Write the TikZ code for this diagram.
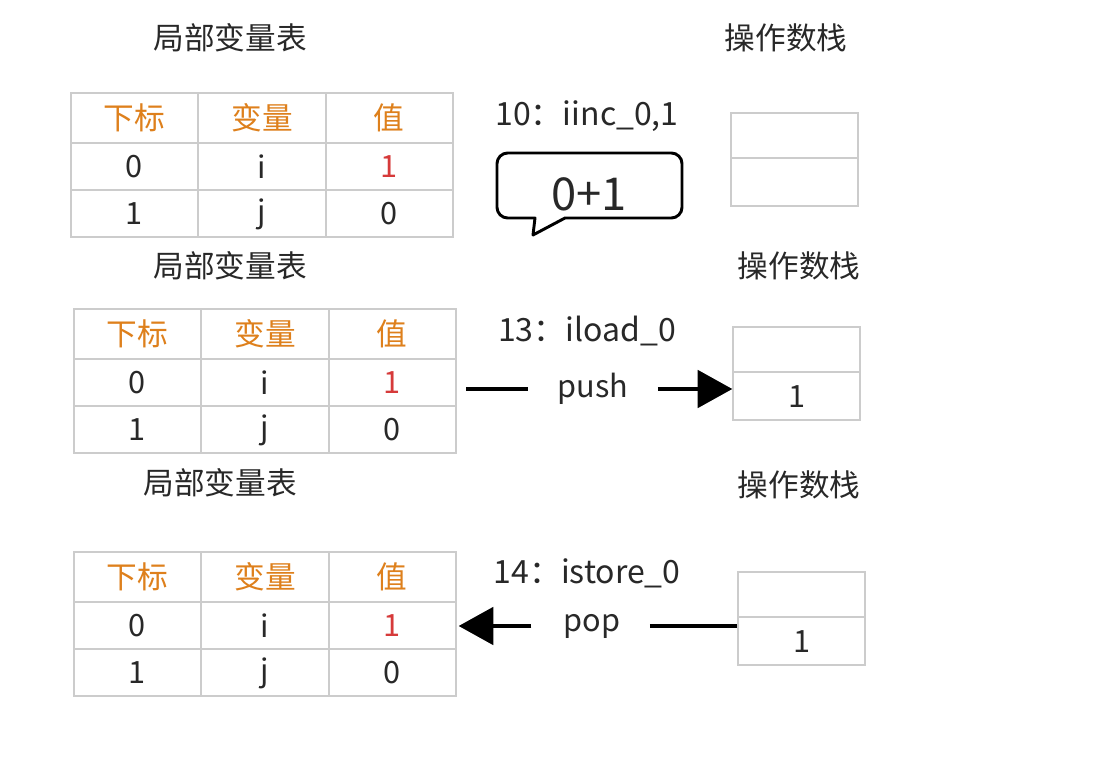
\documentclass[tikz,border=0pt]{standalone}
\usepackage{fontspec}
\setmainfont{Noto Sans CJK SC}
\usetikzlibrary{arrows.meta,positioning}
\definecolor{gridgray}{RGB}{204,204,204}
\definecolor{headorange}{RGB}{222,128,28}
\definecolor{valred}{RGB}{214,58,58}
\definecolor{inkgray}{RGB}{40,40,40}

\tikzset{
  gridline/.style={draw=gridgray,line width=1pt},
  tablebox/.style={gridline,rectangle,minimum width=286.5pt,minimum height=108pt,inner sep=0pt},
  stackbox/.style={gridline,rectangle,minimum width=95.25pt,minimum height=69.75pt,inner sep=0pt},
  head/.style={text=headorange,font=\fontsize{23}{27}\selectfont},
  cell/.style={text=inkgray,font=\fontsize{23}{27}\selectfont},
  title/.style={text=inkgray,font=\fontsize{23}{27}\selectfont},
  instr/.style={text=inkgray,font=\fontsize{24}{28}\selectfont},
  thickline/.style={line width=3pt},
  bigarrow/.style={line width=3pt,-{Triangle[length=26pt,width=28pt]}},
}

% local variable table, top left corner at (#2,#3)
\newcommand{\vartable}[3]{%
\begin{scope}[shift={(#2,#3)}]
\node[tablebox] (#1) at (191,72) {};
\draw[gridline] (127,0) -- (127,144);
\draw[gridline] (255,0) -- (255,144);
\draw[gridline] (0,50) -- (382,50);
\draw[gridline] (0,97) -- (382,97);
\node[head] (#1-idx) at (63,25) {下标};
\node[head] (#1-var) at (191,25) {变量};
\node[head] (#1-val) at (318,25) {值};
\node[cell] (#1-a) at (63,74) {0};
\node[cell] (#1-b) at (191,74) {i};
\node[cell,text=valred] (#1-c) at (318,74) {1};
\node[cell] (#1-d) at (63,121) {1};
\node[cell] (#1-e) at (191,121) {j};
\node[cell] (#1-f) at (318,121) {0};
\end{scope}}

% operand stack, top left corner at (#2,#3)
\newcommand{\opstack}[4]{%
\begin{scope}[shift={(#2,#3)}]
\node[stackbox] (#1) at (63.5,46.5) {};
\draw[gridline] (0,45) -- (127,45);
\node[cell] (#1-top) at (63.5,70) {#4};
\end{scope}}

\begin{document}
\begin{tikzpicture}[x=0.75pt,y=-0.75pt]
\useasboundingbox[fill=white] (0,0) rectangle (1117,763);

%titles
\node[title] (lvt1) at (230,38) {局部变量表};
\node[title] (ops1) at (786,38) {操作数栈};
\node[title] (lvt2) at (230,266) {局部变量表};
\node[title] (ops2) at (799,266) {操作数栈};
\node[title] (lvt3) at (220,483) {局部变量表};
\node[title] (ops3) at (799,485) {操作数栈};

%tables
\vartable{tab1}{71}{93}
\vartable{tab2}{74}{309}
\vartable{tab3}{74}{552}

%stacks
\opstack{stk1}{731}{113}{}
\opstack{stk2}{733}{327}{1}
\opstack{stk3}{738}{572}{1}

%10: iinc
\node[instr] (iinc) at (587,116) {10：iinc\_0,1};
\draw[line width=2.2pt,line join=round,rounded corners=8pt]
 (497,153) -- (682,153) -- (682,218) [sharp corners] -- (565,218)
 -- (533,235) -- (535,218) [rounded corners=8pt] -- (497,218) -- cycle;
\node[text=inkgray,font=\fontsize{34}{40}\selectfont] (sum) at (589,194) {0+1};

%13: iload
\node[instr] (iload) at (587,331) {13：iload\_0};
\node[cell,inner sep=0pt] (push) at (593,389) {push};
\draw[thickline,shorten <=7pt,shorten >=22pt] (tab2.east |- push.west) -- (push.west);
\draw[bigarrow,shorten <=22pt] (push.east) -- (stk2.west |- push.east);

%14: istore
\node[instr] (istore) at (587,573) {14：istore\_0};
\node[cell,inner sep=0pt] (pop) at (592,626) {pop};
\draw[bigarrow,shorten <=24pt,shorten >=1.5pt] (pop.west) -- (tab3.east |- pop.west);
\draw[thickline,shorten <=22pt] (pop.east) -- (stk3.west |- pop.east);

\end{tikzpicture}
\end{document}
